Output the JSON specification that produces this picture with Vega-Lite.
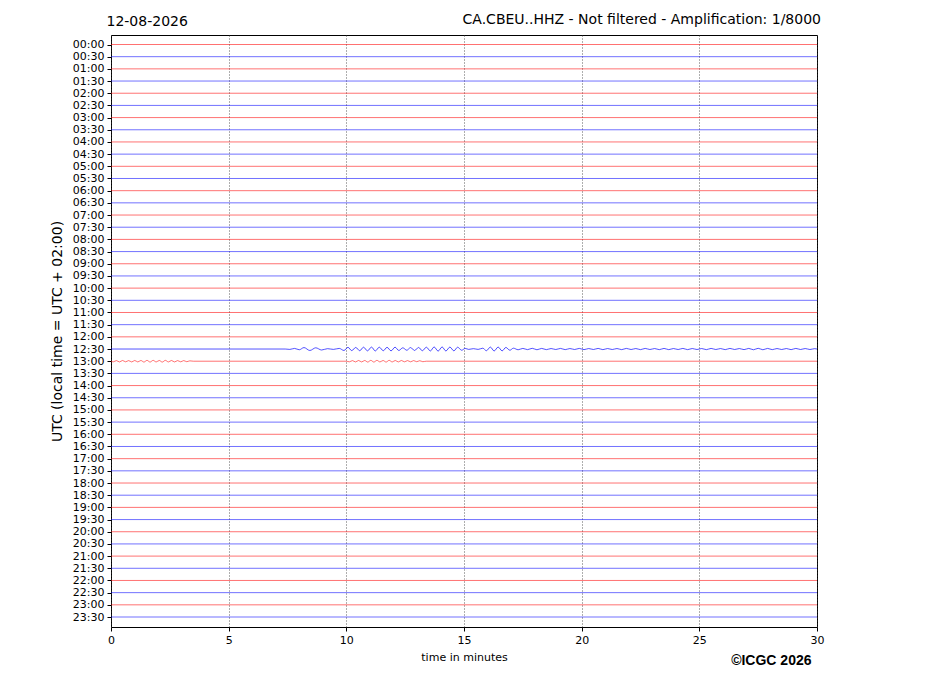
{
  "$schema": "https://vega.github.io/schema/vega-lite/v6.json",
  "background": "white",
  "autosize": "none",
  "padding": {"left": 111, "top": 35, "right": 110, "bottom": 69},
  "width": 706,
  "height": 592,
  "config": {
    "view": {"stroke": "black", "strokeWidth": 1},
    "font": "DejaVu Sans",
    "axis": {"labelFont": "DejaVu Sans", "titleFont": "DejaVu Sans", "labelColor": "black", "titleColor": "black", "tickColor": "black", "domainColor": "black"}
  },
  "title": {
    "text": "CA.CBEU..HHZ - Not filtered - Amplification: 1/8000",
    "anchor": "end",
    "font": "DejaVu Sans",
    "fontSize": 14,
    "fontWeight": "normal",
    "color": "black",
    "baseline": "alphabetic",
    "offset": -24,
    "dx": -3
  },
  "datasets": {
    "quiet": [
      {"trace": "00:00", "m": "00", "t": 0, "y": 0}, {"trace": "00:00", "m": "00", "t": 30, "y": 0},
      {"trace": "00:30", "m": "30", "t": 0, "y": 1}, {"trace": "00:30", "m": "30", "t": 30, "y": 1},
      {"trace": "01:00", "m": "00", "t": 0, "y": 2}, {"trace": "01:00", "m": "00", "t": 30, "y": 2},
      {"trace": "01:30", "m": "30", "t": 0, "y": 3}, {"trace": "01:30", "m": "30", "t": 30, "y": 3},
      {"trace": "02:00", "m": "00", "t": 0, "y": 4}, {"trace": "02:00", "m": "00", "t": 30, "y": 4},
      {"trace": "02:30", "m": "30", "t": 0, "y": 5}, {"trace": "02:30", "m": "30", "t": 30, "y": 5},
      {"trace": "03:00", "m": "00", "t": 0, "y": 6}, {"trace": "03:00", "m": "00", "t": 30, "y": 6},
      {"trace": "03:30", "m": "30", "t": 0, "y": 7}, {"trace": "03:30", "m": "30", "t": 30, "y": 7},
      {"trace": "04:00", "m": "00", "t": 0, "y": 8}, {"trace": "04:00", "m": "00", "t": 30, "y": 8},
      {"trace": "04:30", "m": "30", "t": 0, "y": 9}, {"trace": "04:30", "m": "30", "t": 30, "y": 9},
      {"trace": "05:00", "m": "00", "t": 0, "y": 10}, {"trace": "05:00", "m": "00", "t": 30, "y": 10},
      {"trace": "05:30", "m": "30", "t": 0, "y": 11}, {"trace": "05:30", "m": "30", "t": 30, "y": 11},
      {"trace": "06:00", "m": "00", "t": 0, "y": 12}, {"trace": "06:00", "m": "00", "t": 30, "y": 12},
      {"trace": "06:30", "m": "30", "t": 0, "y": 13}, {"trace": "06:30", "m": "30", "t": 30, "y": 13},
      {"trace": "07:00", "m": "00", "t": 0, "y": 14}, {"trace": "07:00", "m": "00", "t": 30, "y": 14},
      {"trace": "07:30", "m": "30", "t": 0, "y": 15}, {"trace": "07:30", "m": "30", "t": 30, "y": 15},
      {"trace": "08:00", "m": "00", "t": 0, "y": 16}, {"trace": "08:00", "m": "00", "t": 30, "y": 16},
      {"trace": "08:30", "m": "30", "t": 0, "y": 17}, {"trace": "08:30", "m": "30", "t": 30, "y": 17},
      {"trace": "09:00", "m": "00", "t": 0, "y": 18}, {"trace": "09:00", "m": "00", "t": 30, "y": 18},
      {"trace": "09:30", "m": "30", "t": 0, "y": 19}, {"trace": "09:30", "m": "30", "t": 30, "y": 19},
      {"trace": "10:00", "m": "00", "t": 0, "y": 20}, {"trace": "10:00", "m": "00", "t": 30, "y": 20},
      {"trace": "10:30", "m": "30", "t": 0, "y": 21}, {"trace": "10:30", "m": "30", "t": 30, "y": 21},
      {"trace": "11:00", "m": "00", "t": 0, "y": 22}, {"trace": "11:00", "m": "00", "t": 30, "y": 22},
      {"trace": "11:30", "m": "30", "t": 0, "y": 23}, {"trace": "11:30", "m": "30", "t": 30, "y": 23},
      {"trace": "12:00", "m": "00", "t": 0, "y": 24}, {"trace": "12:00", "m": "00", "t": 30, "y": 24},
      {"trace": "13:30", "m": "30", "t": 0, "y": 27}, {"trace": "13:30", "m": "30", "t": 30, "y": 27},
      {"trace": "14:00", "m": "00", "t": 0, "y": 28}, {"trace": "14:00", "m": "00", "t": 30, "y": 28},
      {"trace": "14:30", "m": "30", "t": 0, "y": 29}, {"trace": "14:30", "m": "30", "t": 30, "y": 29},
      {"trace": "15:00", "m": "00", "t": 0, "y": 30}, {"trace": "15:00", "m": "00", "t": 30, "y": 30},
      {"trace": "15:30", "m": "30", "t": 0, "y": 31}, {"trace": "15:30", "m": "30", "t": 30, "y": 31},
      {"trace": "16:00", "m": "00", "t": 0, "y": 32}, {"trace": "16:00", "m": "00", "t": 30, "y": 32},
      {"trace": "16:30", "m": "30", "t": 0, "y": 33}, {"trace": "16:30", "m": "30", "t": 30, "y": 33},
      {"trace": "17:00", "m": "00", "t": 0, "y": 34}, {"trace": "17:00", "m": "00", "t": 30, "y": 34},
      {"trace": "17:30", "m": "30", "t": 0, "y": 35}, {"trace": "17:30", "m": "30", "t": 30, "y": 35},
      {"trace": "18:00", "m": "00", "t": 0, "y": 36}, {"trace": "18:00", "m": "00", "t": 30, "y": 36},
      {"trace": "18:30", "m": "30", "t": 0, "y": 37}, {"trace": "18:30", "m": "30", "t": 30, "y": 37},
      {"trace": "19:00", "m": "00", "t": 0, "y": 38}, {"trace": "19:00", "m": "00", "t": 30, "y": 38},
      {"trace": "19:30", "m": "30", "t": 0, "y": 39}, {"trace": "19:30", "m": "30", "t": 30, "y": 39},
      {"trace": "20:00", "m": "00", "t": 0, "y": 40}, {"trace": "20:00", "m": "00", "t": 30, "y": 40},
      {"trace": "20:30", "m": "30", "t": 0, "y": 41}, {"trace": "20:30", "m": "30", "t": 30, "y": 41},
      {"trace": "21:00", "m": "00", "t": 0, "y": 42}, {"trace": "21:00", "m": "00", "t": 30, "y": 42},
      {"trace": "21:30", "m": "30", "t": 0, "y": 43}, {"trace": "21:30", "m": "30", "t": 30, "y": 43},
      {"trace": "22:00", "m": "00", "t": 0, "y": 44}, {"trace": "22:00", "m": "00", "t": 30, "y": 44},
      {"trace": "22:30", "m": "30", "t": 0, "y": 45}, {"trace": "22:30", "m": "30", "t": 30, "y": 45},
      {"trace": "23:00", "m": "00", "t": 0, "y": 46}, {"trace": "23:00", "m": "00", "t": 30, "y": 46},
      {"trace": "23:30", "m": "30", "t": 0, "y": 47}, {"trace": "23:30", "m": "30", "t": 30, "y": 47}
    ],
    "t1230": [
      {"trace": "12:30", "m": "30", "t": 0, "y": 25},
      {"trace": "12:30", "m": "30", "t": 7.4, "y": 25},
      {"trace": "12:30", "m": "30", "t": 7.6, "y": 25.03},
      {"trace": "12:30", "m": "30", "t": 7.8, "y": 24.95},
      {"trace": "12:30", "m": "30", "t": 8.0, "y": 25.06},
      {"trace": "12:30", "m": "30", "t": 8.2, "y": 24.88},
      {"trace": "12:30", "m": "30", "t": 8.45, "y": 25.12},
      {"trace": "12:30", "m": "30", "t": 8.7, "y": 24.9},
      {"trace": "12:30", "m": "30", "t": 8.95, "y": 25.08},
      {"trace": "12:30", "m": "30", "t": 9.2, "y": 24.97},
      {"trace": "12:30", "m": "30", "t": 9.45, "y": 25.03},
      {"trace": "12:30", "m": "30", "t": 9.7, "y": 24.95},
      {"trace": "12:30", "m": "30", "t": 9.9, "y": 25.12},
      {"trace": "12:30", "m": "30", "t": 10.07, "y": 24.86},
      {"trace": "12:30", "m": "30", "t": 10.23, "y": 25.13},
      {"trace": "12:30", "m": "30", "t": 10.4, "y": 24.87},
      {"trace": "12:30", "m": "30", "t": 10.57, "y": 25.14},
      {"trace": "12:30", "m": "30", "t": 10.73, "y": 24.85},
      {"trace": "12:30", "m": "30", "t": 10.9, "y": 25.15},
      {"trace": "12:30", "m": "30", "t": 11.07, "y": 24.84},
      {"trace": "12:30", "m": "30", "t": 11.23, "y": 25.16},
      {"trace": "12:30", "m": "30", "t": 11.4, "y": 24.85},
      {"trace": "12:30", "m": "30", "t": 11.57, "y": 25.14},
      {"trace": "12:30", "m": "30", "t": 11.73, "y": 24.86},
      {"trace": "12:30", "m": "30", "t": 11.9, "y": 25.15},
      {"trace": "12:30", "m": "30", "t": 12.07, "y": 24.85},
      {"trace": "12:30", "m": "30", "t": 12.23, "y": 25.12},
      {"trace": "12:30", "m": "30", "t": 12.4, "y": 24.9},
      {"trace": "12:30", "m": "30", "t": 12.57, "y": 25.1},
      {"trace": "12:30", "m": "30", "t": 12.73, "y": 24.88},
      {"trace": "12:30", "m": "30", "t": 12.9, "y": 25.12},
      {"trace": "12:30", "m": "30", "t": 13.07, "y": 24.87},
      {"trace": "12:30", "m": "30", "t": 13.23, "y": 25.14},
      {"trace": "12:30", "m": "30", "t": 13.4, "y": 24.85},
      {"trace": "12:30", "m": "30", "t": 13.57, "y": 25.16},
      {"trace": "12:30", "m": "30", "t": 13.73, "y": 24.83},
      {"trace": "12:30", "m": "30", "t": 13.9, "y": 25.17},
      {"trace": "12:30", "m": "30", "t": 14.07, "y": 24.83},
      {"trace": "12:30", "m": "30", "t": 14.23, "y": 25.16},
      {"trace": "12:30", "m": "30", "t": 14.4, "y": 24.84},
      {"trace": "12:30", "m": "30", "t": 14.57, "y": 25.15},
      {"trace": "12:30", "m": "30", "t": 14.73, "y": 24.85},
      {"trace": "12:30", "m": "30", "t": 14.9, "y": 25.1},
      {"trace": "12:30", "m": "30", "t": 15.05, "y": 24.95},
      {"trace": "12:30", "m": "30", "t": 15.2, "y": 25.03},
      {"trace": "12:30", "m": "30", "t": 15.4, "y": 24.97},
      {"trace": "12:30", "m": "30", "t": 15.6, "y": 25.03},
      {"trace": "12:30", "m": "30", "t": 15.8, "y": 24.93},
      {"trace": "12:30", "m": "30", "t": 15.95, "y": 25.14},
      {"trace": "12:30", "m": "30", "t": 16.12, "y": 24.84},
      {"trace": "12:30", "m": "30", "t": 16.28, "y": 25.16},
      {"trace": "12:30", "m": "30", "t": 16.45, "y": 24.84},
      {"trace": "12:30", "m": "30", "t": 16.62, "y": 25.15},
      {"trace": "12:30", "m": "30", "t": 16.78, "y": 24.87},
      {"trace": "12:30", "m": "30", "t": 16.95, "y": 25.1},
      {"trace": "12:30", "m": "30", "t": 17.1, "y": 24.93},
      {"trace": "12:30", "m": "30", "t": 17.3, "y": 25.06},
      {"trace": "12:30", "m": "30", "t": 17.5, "y": 24.95},
      {"trace": "12:30", "m": "30", "t": 17.7, "y": 25.05},
      {"trace": "12:30", "m": "30", "t": 17.9, "y": 24.94},
      {"trace": "12:30", "m": "30", "t": 18.1, "y": 25.06},
      {"trace": "12:30", "m": "30", "t": 18.3, "y": 24.95},
      {"trace": "12:30", "m": "30", "t": 18.5, "y": 25.05},
      {"trace": "12:30", "m": "30", "t": 18.7, "y": 24.96},
      {"trace": "12:30", "m": "30", "t": 18.9, "y": 25.04},
      {"trace": "12:30", "m": "30", "t": 19.1, "y": 24.95},
      {"trace": "12:30", "m": "30", "t": 19.3, "y": 25.05},
      {"trace": "12:30", "m": "30", "t": 19.5, "y": 24.96},
      {"trace": "12:30", "m": "30", "t": 19.7, "y": 25.04},
      {"trace": "12:30", "m": "30", "t": 19.9, "y": 24.95},
      {"trace": "12:30", "m": "30", "t": 20.1, "y": 25.05},
      {"trace": "12:30", "m": "30", "t": 20.3, "y": 24.96},
      {"trace": "12:30", "m": "30", "t": 20.5, "y": 25.04},
      {"trace": "12:30", "m": "30", "t": 20.7, "y": 24.95},
      {"trace": "12:30", "m": "30", "t": 20.9, "y": 25.05},
      {"trace": "12:30", "m": "30", "t": 21.1, "y": 24.96},
      {"trace": "12:30", "m": "30", "t": 21.3, "y": 25.04},
      {"trace": "12:30", "m": "30", "t": 21.5, "y": 24.96},
      {"trace": "12:30", "m": "30", "t": 21.7, "y": 25.05},
      {"trace": "12:30", "m": "30", "t": 21.9, "y": 24.95},
      {"trace": "12:30", "m": "30", "t": 22.1, "y": 25.04},
      {"trace": "12:30", "m": "30", "t": 22.3, "y": 24.96},
      {"trace": "12:30", "m": "30", "t": 22.5, "y": 25.05},
      {"trace": "12:30", "m": "30", "t": 22.7, "y": 24.95},
      {"trace": "12:30", "m": "30", "t": 22.9, "y": 25.04},
      {"trace": "12:30", "m": "30", "t": 23.1, "y": 24.96},
      {"trace": "12:30", "m": "30", "t": 23.3, "y": 25.05},
      {"trace": "12:30", "m": "30", "t": 23.5, "y": 24.95},
      {"trace": "12:30", "m": "30", "t": 23.7, "y": 25.05},
      {"trace": "12:30", "m": "30", "t": 23.9, "y": 24.96},
      {"trace": "12:30", "m": "30", "t": 24.1, "y": 25.04},
      {"trace": "12:30", "m": "30", "t": 24.3, "y": 24.95},
      {"trace": "12:30", "m": "30", "t": 24.5, "y": 25.05},
      {"trace": "12:30", "m": "30", "t": 24.7, "y": 24.96},
      {"trace": "12:30", "m": "30", "t": 24.9, "y": 25.04},
      {"trace": "12:30", "m": "30", "t": 25.1, "y": 24.96},
      {"trace": "12:30", "m": "30", "t": 25.3, "y": 25.05},
      {"trace": "12:30", "m": "30", "t": 25.5, "y": 24.95},
      {"trace": "12:30", "m": "30", "t": 25.7, "y": 25.04},
      {"trace": "12:30", "m": "30", "t": 25.9, "y": 24.96},
      {"trace": "12:30", "m": "30", "t": 26.1, "y": 25.05},
      {"trace": "12:30", "m": "30", "t": 26.3, "y": 24.95},
      {"trace": "12:30", "m": "30", "t": 26.5, "y": 25.04},
      {"trace": "12:30", "m": "30", "t": 26.7, "y": 24.96},
      {"trace": "12:30", "m": "30", "t": 26.9, "y": 25.05},
      {"trace": "12:30", "m": "30", "t": 27.1, "y": 24.95},
      {"trace": "12:30", "m": "30", "t": 27.3, "y": 25.06},
      {"trace": "12:30", "m": "30", "t": 27.5, "y": 24.94},
      {"trace": "12:30", "m": "30", "t": 27.7, "y": 25.06},
      {"trace": "12:30", "m": "30", "t": 27.9, "y": 24.95},
      {"trace": "12:30", "m": "30", "t": 28.1, "y": 25.05},
      {"trace": "12:30", "m": "30", "t": 28.3, "y": 24.96},
      {"trace": "12:30", "m": "30", "t": 28.5, "y": 25.04},
      {"trace": "12:30", "m": "30", "t": 28.7, "y": 24.96},
      {"trace": "12:30", "m": "30", "t": 28.9, "y": 25.05},
      {"trace": "12:30", "m": "30", "t": 29.1, "y": 24.95},
      {"trace": "12:30", "m": "30", "t": 29.3, "y": 25.04},
      {"trace": "12:30", "m": "30", "t": 29.5, "y": 24.96},
      {"trace": "12:30", "m": "30", "t": 29.7, "y": 25.04},
      {"trace": "12:30", "m": "30", "t": 29.9, "y": 24.97},
      {"trace": "12:30", "m": "30", "t": 30, "y": 25}
    ],
    "t1300": [
      {"trace": "13:00", "m": "00", "t": 0, "y": 26},
      {"trace": "13:00", "m": "00", "t": 0.1, "y": 26.05},
      {"trace": "13:00", "m": "00", "t": 0.23, "y": 25.95},
      {"trace": "13:00", "m": "00", "t": 0.36, "y": 26.06},
      {"trace": "13:00", "m": "00", "t": 0.49, "y": 25.94},
      {"trace": "13:00", "m": "00", "t": 0.62, "y": 26.05},
      {"trace": "13:00", "m": "00", "t": 0.75, "y": 25.95},
      {"trace": "13:00", "m": "00", "t": 0.88, "y": 26.06},
      {"trace": "13:00", "m": "00", "t": 1.01, "y": 25.94},
      {"trace": "13:00", "m": "00", "t": 1.14, "y": 26.06},
      {"trace": "13:00", "m": "00", "t": 1.27, "y": 25.94},
      {"trace": "13:00", "m": "00", "t": 1.4, "y": 26.07},
      {"trace": "13:00", "m": "00", "t": 1.53, "y": 25.93},
      {"trace": "13:00", "m": "00", "t": 1.66, "y": 26.07},
      {"trace": "13:00", "m": "00", "t": 1.79, "y": 25.93},
      {"trace": "13:00", "m": "00", "t": 1.92, "y": 26.06},
      {"trace": "13:00", "m": "00", "t": 2.05, "y": 25.94},
      {"trace": "13:00", "m": "00", "t": 2.18, "y": 26.07},
      {"trace": "13:00", "m": "00", "t": 2.31, "y": 25.93},
      {"trace": "13:00", "m": "00", "t": 2.44, "y": 26.06},
      {"trace": "13:00", "m": "00", "t": 2.57, "y": 25.94},
      {"trace": "13:00", "m": "00", "t": 2.7, "y": 26.06},
      {"trace": "13:00", "m": "00", "t": 2.83, "y": 25.95},
      {"trace": "13:00", "m": "00", "t": 2.96, "y": 26.05},
      {"trace": "13:00", "m": "00", "t": 3.09, "y": 25.95},
      {"trace": "13:00", "m": "00", "t": 3.22, "y": 26.04},
      {"trace": "13:00", "m": "00", "t": 3.35, "y": 25.97},
      {"trace": "13:00", "m": "00", "t": 3.5, "y": 26},
      {"trace": "13:00", "m": "00", "t": 10.0, "y": 26},
      {"trace": "13:00", "m": "00", "t": 10.13, "y": 26.05},
      {"trace": "13:00", "m": "00", "t": 10.26, "y": 25.95},
      {"trace": "13:00", "m": "00", "t": 10.39, "y": 26.06},
      {"trace": "13:00", "m": "00", "t": 10.52, "y": 25.94},
      {"trace": "13:00", "m": "00", "t": 10.65, "y": 26.06},
      {"trace": "13:00", "m": "00", "t": 10.78, "y": 25.94},
      {"trace": "13:00", "m": "00", "t": 10.91, "y": 26.07},
      {"trace": "13:00", "m": "00", "t": 11.04, "y": 25.93},
      {"trace": "13:00", "m": "00", "t": 11.17, "y": 26.07},
      {"trace": "13:00", "m": "00", "t": 11.3, "y": 25.93},
      {"trace": "13:00", "m": "00", "t": 11.43, "y": 26.06},
      {"trace": "13:00", "m": "00", "t": 11.56, "y": 25.94},
      {"trace": "13:00", "m": "00", "t": 11.69, "y": 26.07},
      {"trace": "13:00", "m": "00", "t": 11.82, "y": 25.93},
      {"trace": "13:00", "m": "00", "t": 11.95, "y": 26.06},
      {"trace": "13:00", "m": "00", "t": 12.08, "y": 25.94},
      {"trace": "13:00", "m": "00", "t": 12.21, "y": 26.06},
      {"trace": "13:00", "m": "00", "t": 12.34, "y": 25.94},
      {"trace": "13:00", "m": "00", "t": 12.47, "y": 26.05},
      {"trace": "13:00", "m": "00", "t": 12.6, "y": 25.95},
      {"trace": "13:00", "m": "00", "t": 12.73, "y": 26.05},
      {"trace": "13:00", "m": "00", "t": 12.86, "y": 25.95},
      {"trace": "13:00", "m": "00", "t": 12.99, "y": 26.04},
      {"trace": "13:00", "m": "00", "t": 13.12, "y": 25.96},
      {"trace": "13:00", "m": "00", "t": 13.25, "y": 26.04},
      {"trace": "13:00", "m": "00", "t": 13.4, "y": 26},
      {"trace": "13:00", "m": "00", "t": 30, "y": 26}
    ]
  },
  "encoding": {
    "y": {
      "field": "y",
      "type": "quantitative",
      "scale": {"domain": [-0.78, 47.82], "reverse": true, "nice": false, "zero": false},
      "axis": {
        "values": [0,1,2,3,4,5,6,7,8,9,10,11,12,13,14,15,16,17,18,19,20,21,22,23,24,25,26,27,28,29,30,31,32,33,34,35,36,37,38,39,40,41,42,43,44,45,46,47],
        "labelExpr": "(floor(datum.value / 2) < 10 ? '0' : '') + floor(datum.value / 2) + ':' + (datum.value % 2 ? '30' : '00')",
        "grid": false,
        "domain": false,
        "tickSize": 4,
        "labelPadding": 3,
        "labelFontSize": 11,
        "title": "UTC (local time = UTC + 02:00)",
        "titleFontSize": 14,
        "titleFontWeight": "normal",
        "titlePadding": 8
      }
    },
    "color": {
      "field": "m",
      "type": "nominal",
      "scale": {"domain": ["00", "30"], "range": ["#ff0000", "#0000ff"]},
      "legend": null
    },
    "detail": {"field": "trace"}
  },
  "resolve": {"axis": {"x": "independent"}},
  "layer": [
    {
      "data": {"name": "quiet"},
      "mark": {"type": "line", "strokeWidth": 0.8, "opacity": 0.7},
      "encoding": {
        "x": {
          "field": "t",
          "type": "quantitative",
          "scale": {"domain": [0, 30], "nice": false, "zero": false},
          "axis": {
            "orient": "bottom",
            "values": [0, 5, 10, 15, 20, 25, 30],
            "domain": false,
            "grid": true,
            "gridColor": "#333333",
            "gridDash": [1, 2],
            "gridWidth": 0.8,
            "tickSize": 4,
            "labelPadding": 3,
            "labelFontSize": 11,
            "labelFlush": false,
            "title": "time in minutes",
            "titleFontSize": 11,
            "titleFontWeight": "normal",
            "titlePadding": 6
          }
        }
      }
    },
    {
      "data": {"name": "t1230"},
      "mark": {"type": "line", "strokeWidth": 0.8, "opacity": 0.85, "interpolate": "monotone"},
      "encoding": {
        "x": {
          "field": "t",
          "type": "quantitative",
          "scale": {"domain": [0, 30], "nice": false, "zero": false},
          "axis": {
            "orient": "top",
            "domain": false,
            "ticks": false,
            "labels": false,
            "grid": false,
            "title": "12-08-2026",
            "titleX": -5,
            "titleY": -10,
            "titleAlign": "left",
            "titleBaseline": "alphabetic",
            "titleFontSize": 14,
            "titleFontWeight": "normal"
          }
        }
      }
    },
    {
      "data": {"name": "t1300"},
      "mark": {"type": "line", "strokeWidth": 0.8, "opacity": 0.7, "interpolate": "monotone"},
      "encoding": {
        "x": {
          "field": "t",
          "type": "quantitative",
          "scale": {"domain": [0, 30], "nice": false, "zero": false},
          "axis": {
            "orient": "bottom",
            "domain": false,
            "ticks": false,
            "labels": false,
            "grid": false,
            "title": "©ICGC 2026",
            "titleX": 700,
            "titleY": 37,
            "titleAlign": "right",
            "titleBaseline": "alphabetic",
            "titleFont": "Liberation Sans",
            "titleFontSize": 14,
            "titleFontWeight": "bold"
          }
        }
      }
    }
  ]
}
